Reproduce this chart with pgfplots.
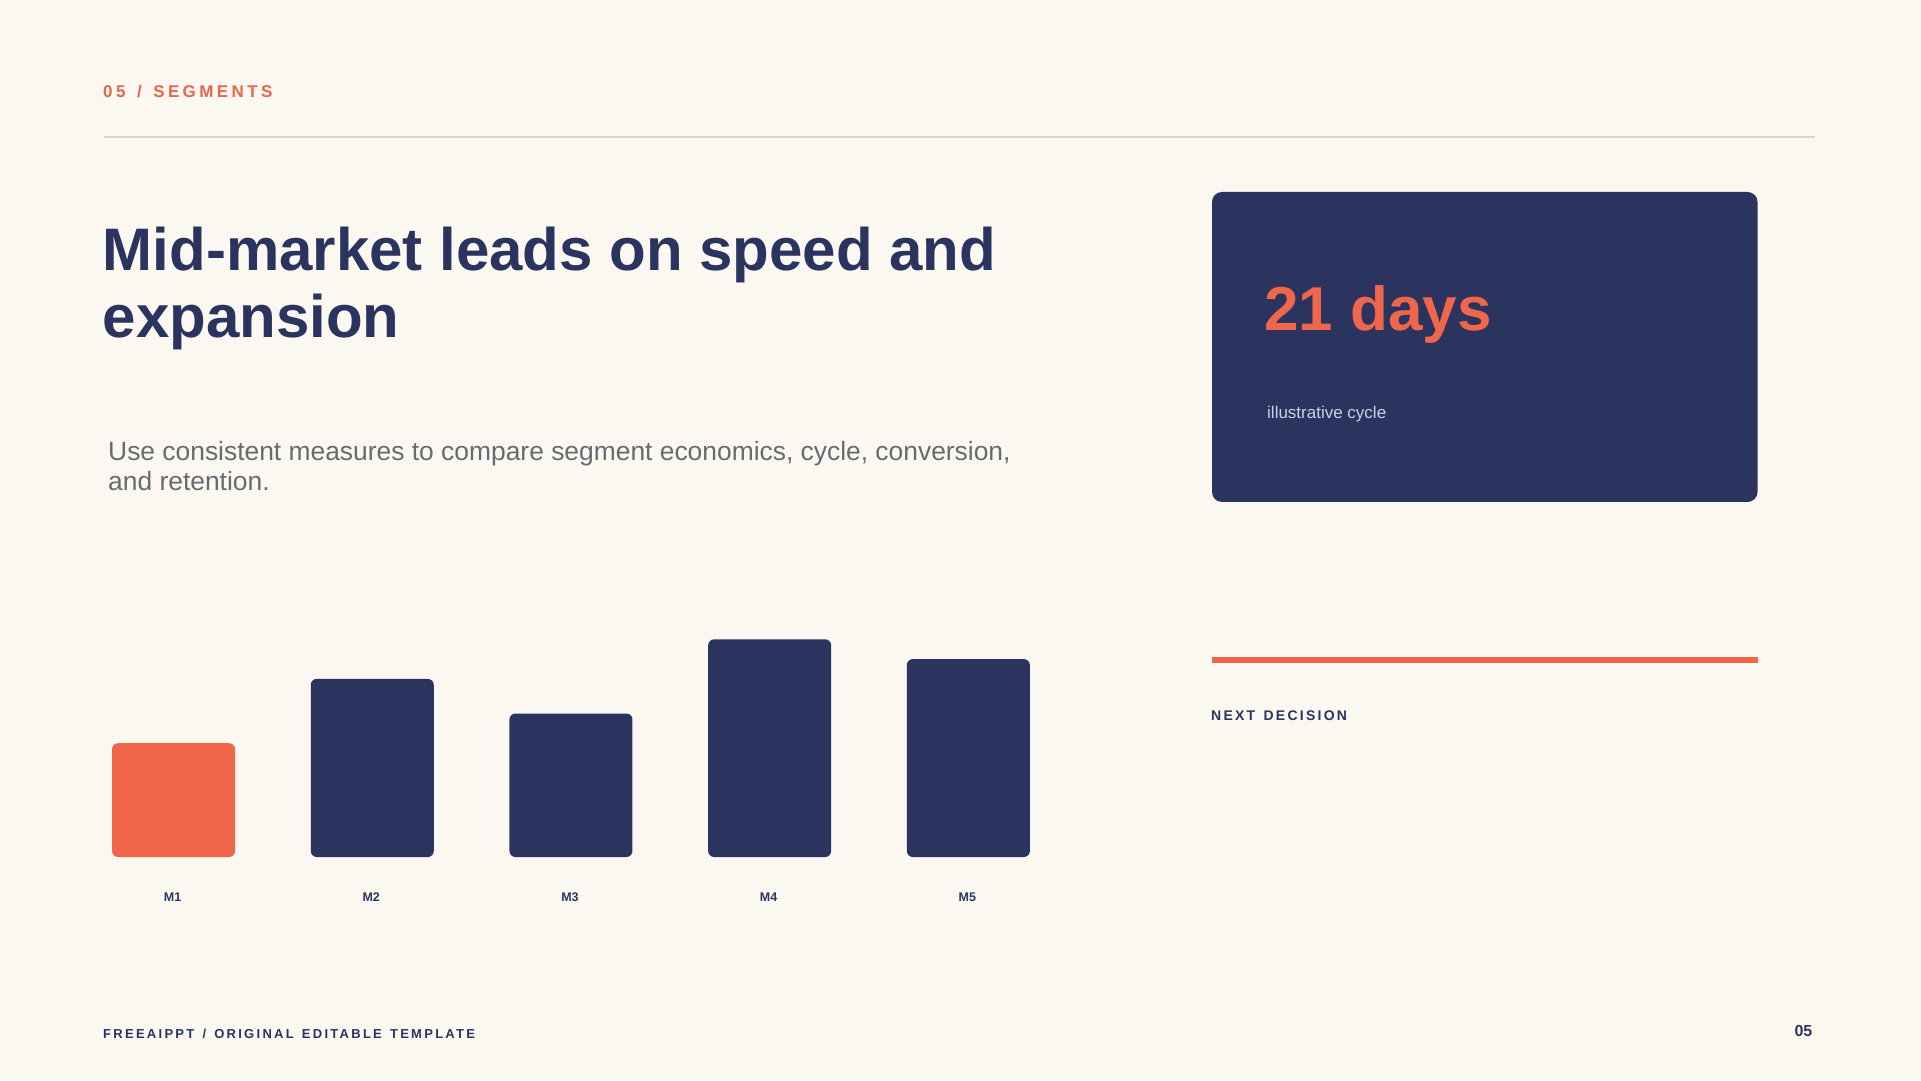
\documentclass[border=0pt]{standalone}
\usepackage{fontspec}
\setmainfont{Liberation Sans}
\usepackage{pgfplots}
\pgfplotsset{compat=1.18}
\definecolor{bg}{HTML}{FBF8F1}
\definecolor{navy}{HTML}{2A345E}
\definecolor{coral}{HTML}{EF664B}
\definecolor{coraltxt}{HTML}{E8664E}
\definecolor{subgray}{HTML}{676A70}
\definecolor{lav}{HTML}{CDD0E4}
\definecolor{rulegray}{HTML}{DAD7D0}
\pgfplotstableread{
x y
0 46
}\tableA
\pgfplotstableread{
x y
1 72
2 58
3 88
4 80
}\tableB
\begin{document}
\begin{tikzpicture}
\begin{scope}[x=1pt,y=1pt]
\useasboundingbox (0,0) rectangle (1921,1080);
\fill[bg] (0,0) rectangle (1921,1080);
% header
\node[anchor=base west,inner sep=0,text=coraltxt] at (103,982.7)
  {\fontsize{17}{20}\selectfont\bfseries\addfontfeature{LetterSpace=20}05\hspace{0.2em} /\hspace{0.2em} SEGMENTS};
\draw[rulegray,line width=2pt] (104,943.3) -- (1815,943.3);
% title
\node[anchor=base west,inner sep=0,text=navy] at (102.5,809)
  {\fontsize{60}{66}\selectfont\bfseries Mid-market leads on speed and};
\node[anchor=base west,inner sep=0,text=navy] at (102.5,742.7)
  {\fontsize{60}{66}\selectfont\bfseries expansion};
% subtitle
\node[anchor=base west,inner sep=0,text=subgray] at (108,619)
  {\fontsize{26.4}{29}\selectfont Use consistent measures to compare segment economics, cycle, conversion,};
\node[anchor=base west,inner sep=0,text=subgray] at (108,589.5)
  {\fontsize{26.4}{29}\selectfont and retention.};
% KPI box
\fill[navy,rounded corners=10pt] (1212,578) rectangle (1757.5,888);
\node[anchor=base west,inner sep=0,text=coral] at (1264,749.3)
  {\fontsize{62}{68}\selectfont\bfseries 21 days};
\node[anchor=base west,inner sep=0,text=lav] at (1267,661)
  {\fontsize{17}{20}\selectfont illustrative cycle};
% next decision
\draw[coral,line width=6pt] (1212,420.5) -- (1758,420.5);
\node[anchor=base west,inner sep=0,text=navy] at (1211,359.3)
  {\fontsize{14}{16}\selectfont\bfseries\addfontfeature{LetterSpace=16}NEXT\hspace{0.16em} DECISION};
% footer
\node[anchor=base west,inner sep=0,text=navy] at (103,41.7)
  {\fontsize{13}{15}\selectfont\bfseries\addfontfeature{LetterSpace=17.5}FREEAIPPT\hspace{0.175em} /\hspace{0.175em} ORIGINAL\hspace{0.175em} EDITABLE\hspace{0.175em} TEMPLATE};
\node[anchor=base east,inner sep=0,text=navy] at (1812.5,44)
  {\fontsize{16}{18}\selectfont\bfseries 05};
\end{scope}
% chart
\begin{axis}[
  at={(74.2pt,223pt)}, anchor=south west,
  scale only axis, width=993.5pt, height=247.4pt,
  xmin=-0.5, xmax=4.5, ymin=0, ymax=100,
  clip=false,
  axis line style={draw=none},
  tick style={draw=none},
  ytick=\empty,
  xtick={0,1,2,3,4},
  xticklabels={M1,M2,M3,M4,M5},
  xticklabel style={anchor=base, yshift=-44pt, xshift=-1pt, inner sep=0pt, text=navy,
    font=\fontsize{12.5}{14}\selectfont\bfseries},
  /pgf/number format/assume math mode=true,
]
\addplot[ybar, bar width=123pt, bar shift=0pt, fill=coral, draw=none, rounded corners=6pt]
  table[x=x,y=y] {\tableA};
\addplot[ybar, bar width=123pt, bar shift=0pt, fill=navy, draw=none, rounded corners=6pt]
  table[x=x,y=y] {\tableB};
\end{axis}
\end{tikzpicture}
\end{document}
